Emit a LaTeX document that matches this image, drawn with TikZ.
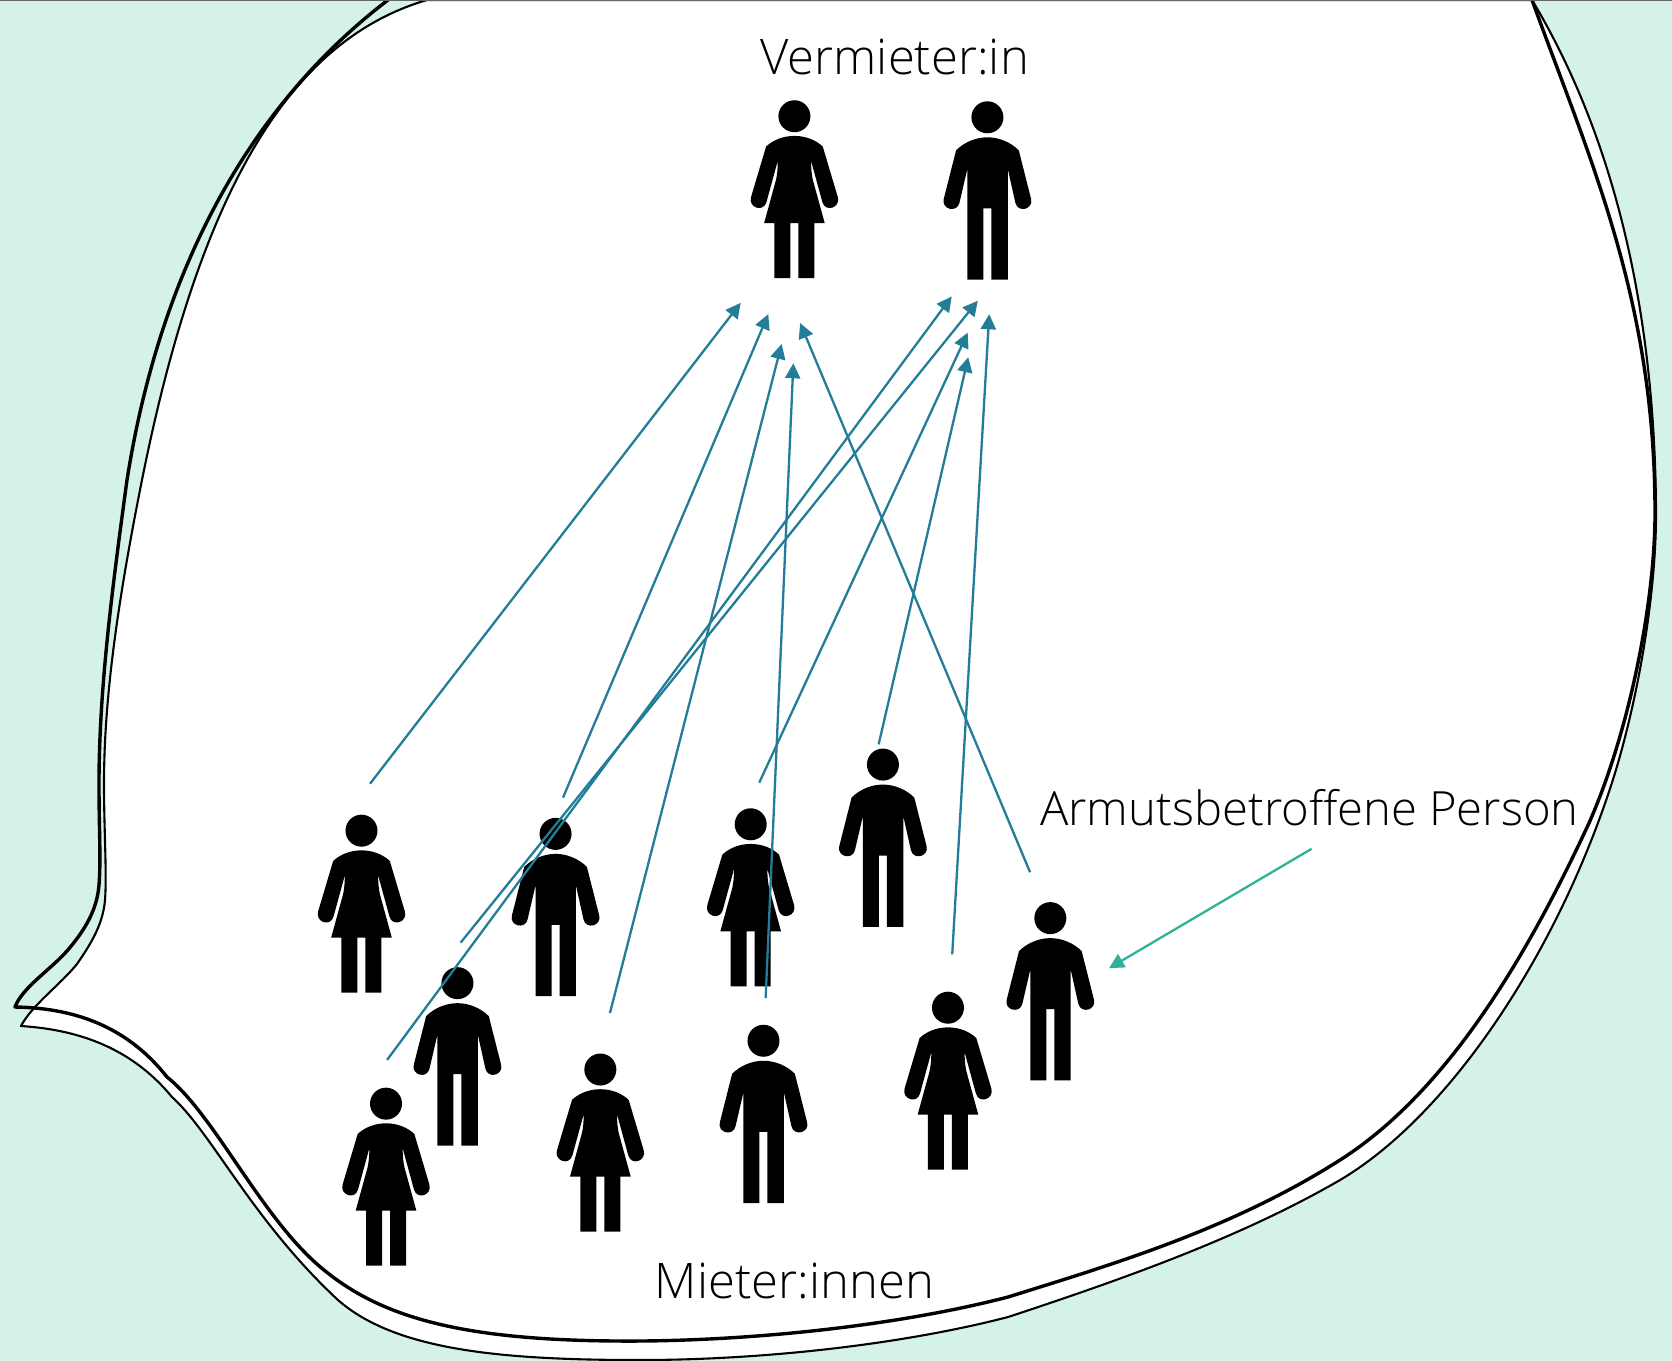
\documentclass[tikz,border=0pt]{standalone}
\usepackage{fontspec}
\setmainfont{Open Sans}[UprightFont=* Light]
\usetikzlibrary{arrows.meta}
\definecolor{bgmint}{HTML}{D5F2EA}
\definecolor{arrowblue}{HTML}{237D98}
\definecolor{arrowgreen}{HTML}{2FB297}
\tikzset{
  x=0.53316pt,y=-0.53316pt,
  fullpx/.style={x=0.5pt,y=-0.5pt},
  thinblob/.style={draw=black,line width=1.05pt,line join=round},
  thickblob/.style={draw=black,line width=1.7pt,line join=round},
  rel/.style={draw=arrowblue,line width=1.15pt,-{Triangle[length=7.5pt,width=7.5pt]}},
  relgreen/.style={draw=arrowgreen,line width=1.15pt,-{Triangle[length=7.5pt,width=7.5pt]}},
  lbl/.style={font=\fontsize{24.5}{28}\selectfont,inner sep=0pt,text=black},
  womanfig/.pic={
    \begin{scope}[x=0.16667pt,y=-0.16667pt]
    \fill (0,0) circle (48);
    \fill (0,59) .. controls (35,59) and (65,72) .. (85,91)
      -- (130,242) .. controls (139.6,274) and (93.6,290) .. (84,258) -- (50,134)
      .. controls (50,160) and (52,175) .. (55,190) -- (91,321) -- (60,321) -- (60,486) -- (12,486) -- (12,321)
      -- (-12,321) -- (-12,486) -- (-60,486) -- (-60,321) -- (-91,321) -- (-55,190)
      .. controls (-52,175) and (-50,160) .. (-50,134) -- (-84,258)
      .. controls (-93.6,290) and (-139.6,274) .. (-130,242) -- (-85,91)
      .. controls (-65,72) and (-35,59) .. (0,59) -- cycle;
    \end{scope}
  },
  manfig/.pic={
    \begin{scope}[x=0.16667pt,y=-0.16667pt]
    \fill (0,0) circle (48);
    \fill (0,60) .. controls (35,60) and (70,75) .. (94,99)
      -- (131,245) .. controls (138.7,276) and (91.7,288) .. (84,257) -- (61,154)
      -- (61,487) -- (12,487) -- (12,273) -- (-12,273) -- (-12,487) -- (-60,487) -- (-60,154) -- (-84,257)
      .. controls (-91.7,288) and (-138.7,276) .. (-131,245) -- (-94,99)
      .. controls (-70,75) and (-35,60) .. (0,60) -- cycle;
    \end{scope}
  }
}
\begin{document}
\begin{tikzpicture}
\useasboundingbox (0,0) rectangle (1568,1276);
\fill[bgmint] (0,0) rectangle (1568,1276);
\begin{scope}[fullpx]
% thin outline, filled white
\path[thinblob,fill=white]
  (427,0) .. controls (290,40) and (200,190) .. (142,480)
  .. controls (117,605) and (104,700) .. (104,784)
  .. controls (104,830) and (107,875) .. (105,900)
  .. controls (103,925) and (90,945) .. (77,964)
  .. controls (60,985) and (32,1005) .. (21,1026)
  .. controls (85,1030) and (135,1052) .. (172,1097)
  .. controls (212,1133) and (252,1220) .. (338,1300)
  .. controls (395,1350) and (500,1360) .. (640,1360)
  .. controls (760,1360) and (900,1345) .. (1008,1317)
  .. controls (1120,1280) and (1240,1238) .. (1340,1180)
  .. controls (1450,1115) and (1560,950) .. (1615,773)
  .. controls (1640,690) and (1656,590) .. (1656,513)
  .. controls (1655,300) and (1610,130) .. (1532,0)
  -- cycle;
% thick outline
\draw[thickblob]
  (388,0) .. controls (270,90) and (165,240) .. (127,480)
  .. controls (112,590) and (99,690) .. (99,784)
  .. controls (99,830) and (101,860) .. (99,885)
  .. controls (97,910) and (85,930) .. (67,951)
  .. controls (50,970) and (22,988) .. (15,1007)
  .. controls (80,1008) and (130,1030) .. (167,1077)
  .. controls (215,1115) and (262,1220) .. (324,1270)
  .. controls (385,1320) and (470,1342) .. (640,1341)
  .. controls (760,1340) and (900,1325) .. (1008,1297)
  .. controls (1110,1265) and (1230,1230) .. (1340,1160)
  .. controls (1450,1090) and (1530,950) .. (1589,823)
  .. controls (1630,730) and (1655,600) .. (1655,513)
  .. controls (1655,300) and (1590,160) .. (1532,0);
\end{scope}
\draw[black!60,line width=0.6pt] (0,0.5) -- (1568,0.5);
% people
\pic (v1) at (745,109) {womanfig};
\pic (v2) at (926,110) {manfig};
\pic (w1) at (339,779) {womanfig};
\pic (w2) at (704,773) {womanfig};
\pic (w3) at (362,1035) {womanfig};
\pic (w4) at (563,1003) {womanfig};
\pic (w5) at (889,945) {womanfig};
\pic (m1) at (521,782) {manfig};
\pic (m2) at (828,717) {manfig};
\pic (m3) at (429,922) {manfig};
\pic (m4) at (716,976) {manfig};
\pic (m5) at (985,861) {manfig};
% labels
\node[lbl] (lv) at (839,53) {Vermieter:in};
\node[lbl] (lm) at (745,1201) {Mieter:innen};
\node[lbl,font=\fontsize{23.6}{28}\selectfont] (la) at (1228,757) {Armutsbetroffene Person};
% connector ends
\foreach \n/\x/\y in {a1/347/735,b1/694.6/284,a2/528/748,b2/720.5/294.6,a3/572/950,b3/733/322.6,a4/718/936,b4/744/340.7,a5/966/818,b5/750.4/303,a6/363/994,b6/892.5/278,a7/432/884,b7/917/282,a8/712/734,b8/907.5/312,a9/824/698,b9/908/335,a10/893/895,b10/927.7/294.7,g1/1230/796,g2/1040/908}
  \coordinate (\n) at (\x,\y);
\foreach \i in {1,...,10} \draw[rel] (a\i) -- (b\i);
\draw[relgreen] (g1) -- (g2);
\end{tikzpicture}
\end{document}
